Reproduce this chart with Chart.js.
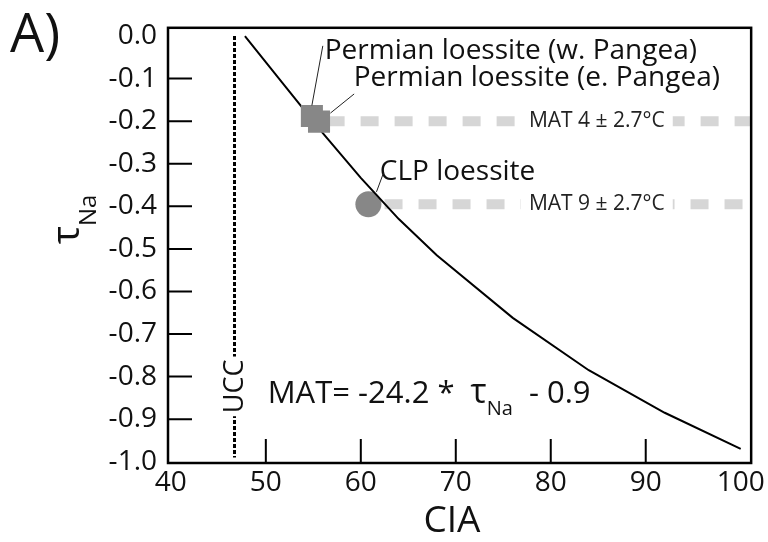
<!DOCTYPE html>
<html>
<head>
<meta charset="utf-8">
<script src="https://cdn.jsdelivr.net/npm/chart.js@4.4.1/dist/chart.umd.min.js"></script>
<style>
  body { margin: 0; background: #fff; }
  #wrap { width: 768px; height: 542px; }
</style>
</head>
<body>
<div id="wrap"><canvas id="chart" width="768" height="542"></canvas></div>
<script>
// model curve (CIA vs tau Na)
const curveCIA = [47.8, 52, 56, 60, 64, 68, 76, 84, 92, 100];
const curveTau = [0.0, -0.117, -0.228, -0.333, -0.43, -0.515, -0.662, -0.785, -0.885, -0.97];

// samples
const sampleNames = ["Permian loessite (w. Pangea)", "Permian loessite (e. Pangea)", "CLP loessite"];
const sampleCIA = [54.85, 55.6, 60.8];
const sampleTau = [-0.188, -0.201, -0.395];

// upper continental crust reference
const uccCIA = 46.7;
const uccTau = [0.0, -0.99];

// MAT bands (dashed grey lines)
const matLabels = ["MAT 4 \u00b1 2.7\u00b0C", "MAT 9 \u00b1 2.7\u00b0C"];
const matTau = [-0.2, -0.395];
const matStart = [56.4, 62.5];
const matEnd = 101.1;

const xTicks = [40, 50, 60, 70, 80, 90, 100];
const yTicks = [0.0, -0.1, -0.2, -0.3, -0.4, -0.5, -0.6, -0.7, -0.8, -0.9, -1.0];

const FONT = "'Open Sans', 'Liberation Sans', sans-serif";

// annotation text positions in data units
const labelPos = [
  { x: 56.2, y: -0.055, lead: [[54.85, -0.163], [56.0, -0.023]] },
  { x: 59.25, y: -0.118, lead: [[56.8, -0.181], [59.3, -0.136]] },
  { x: 62.0, y: -0.339, lead: [[61.65, -0.366], [62.4, -0.321]] }
];

const datasets = [];
matTau.forEach((t, i) => {
  datasets.push({
    data: [{ x: matStart[i], y: t }, { x: matEnd, y: t }],
    borderColor: "#d6d6d6",
    borderWidth: 10,
    borderDash: [18, 16],
    borderCapStyle: "butt",
    pointRadius: 0,
    showLine: true,
    order: 10
  });
});
datasets.push({
  data: uccTau.map((t) => ({ x: uccCIA, y: t })),
  borderColor: "#000",
  borderWidth: 3,
  borderDash: [4, 2],
  borderCapStyle: "butt",
  pointRadius: 0,
  showLine: true,
  order: 9
});
datasets.push({
  data: [{ x: sampleCIA[2], y: sampleTau[2] }],
  pointStyle: "circle",
  pointRadius: 13,
  backgroundColor: "#878787",
  borderWidth: 0,
  showLine: false,
  order: 8
});
datasets.push({
  data: curveCIA.map((c, i) => ({ x: c, y: curveTau[i] })),
  borderColor: "#000",
  borderWidth: 2,
  pointRadius: 0,
  showLine: true,
  tension: 0,
  order: 7
});
datasets.push({
  data: [0, 1].map((i) => ({ x: sampleCIA[i], y: sampleTau[i] })),
  pointStyle: "rect",
  pointRadius: 15.6,
  backgroundColor: "#878787",
  borderWidth: 0,
  showLine: false,
  order: 6
});

const decor = {
  id: "decor",
  afterDatasetsDraw(chart) {
    const ctx = chart.ctx;
    const xs = chart.scales.x, ys = chart.scales.y;
    const a = chart.chartArea;
    const px = (v) => xs.getPixelForValue(v);
    const py = (v) => ys.getPixelForValue(v);
    ctx.save();

    // MAT texts sit on a white patch over the dashes
    ctx.font = "21px " + FONT;
    ctx.textBaseline = "middle";
    ctx.textAlign = "center";
    matLabels.forEach((t, i) => {
      const w = ctx.measureText(t).width;
      const cx = px(84.85), cy = py(matTau[i]);
      ctx.fillStyle = "#fff";
      ctx.fillRect(cx - w / 2 - 8, cy - 8, w + 16, 16);
      ctx.fillStyle = "#222";
      ctx.fillText(t, cx, cy);
    });

    // sample labels and leader lines
    ctx.strokeStyle = "#222";
    ctx.lineWidth = 1;
    ctx.fillStyle = "#111";
    ctx.font = "28px " + FONT;
    ctx.textAlign = "left";
    ctx.textBaseline = "alphabetic";
    sampleNames.forEach((n, i) => {
      const p = labelPos[i];
      ctx.fillText(n, px(p.x), py(p.y));
      ctx.beginPath();
      ctx.moveTo(px(p.lead[0][0]), py(p.lead[0][1]));
      ctx.lineTo(px(p.lead[1][0]), py(p.lead[1][1]));
      ctx.stroke();
    });

    // UCC label (rotated, white behind it to break the dotted line)
    ctx.save();
    ctx.translate(px(uccCIA), py(-0.823));
    ctx.rotate(-Math.PI / 2);
    ctx.font = "27px " + FONT;
    ctx.textAlign = "center";
    ctx.textBaseline = "middle";
    const uw = ctx.measureText("UCC").width;
    ctx.fillStyle = "#fff";
    ctx.fillRect(-uw / 2 - 3, -12, uw + 6, 24);
    ctx.fillStyle = "#111";
    ctx.fillText("UCC", 0, 1);
    ctx.restore();

    // equation
    let ex = px(50.2);
    const ey = py(-0.861);
    ctx.font = "31px " + FONT;
    ctx.fillStyle = "#111";
    const parts1 = "MAT= -24.2 *  ";
    ctx.fillText(parts1, ex, ey);
    ex += ctx.measureText(parts1).width;
    ctx.font = "34px " + FONT;
    ctx.fillText("\u03c4", ex, ey);
    ex += ctx.measureText("\u03c4").width;
    ctx.font = "20px " + FONT;
    ctx.fillText("Na", ex, ey + 12);
    ex += ctx.measureText("Na").width;
    ctx.font = "31px " + FONT;
    ctx.fillText("  - 0.9", ex, ey);

    // frame and inside ticks
    ctx.strokeStyle = "#000";
    ctx.lineWidth = 2.5;
    ctx.strokeRect(a.left, a.top, a.right - a.left, a.bottom - a.top);
    ctx.lineWidth = 2;
    ctx.beginPath();
    xTicks.slice(1, -1).forEach((v) => {
      ctx.moveTo(px(v), a.bottom);
      ctx.lineTo(px(v), a.bottom - 24);
    });
    yTicks.slice(1, -1).forEach((v) => {
      ctx.moveTo(a.left, py(v));
      ctx.lineTo(a.left + 24, py(v));
    });
    ctx.stroke();

    // panel letter and axis titles
    ctx.fillStyle = "#111";
    ctx.textAlign = "left";
    ctx.font = "54px " + FONT;
    ctx.fillText("A)", 10, 52);
    ctx.textAlign = "center";
    ctx.font = "37px " + FONT;
    ctx.fillText("CIA", 452, 532);

    // y title: tau with subscript Na, rotated
    ctx.save();
    ctx.translate(79, 244);
    ctx.rotate(-Math.PI / 2);
    ctx.textAlign = "left";
    ctx.font = "38px " + FONT;
    ctx.fillText("\u03c4", 0, 0);
    const tw = ctx.measureText("\u03c4").width;
    ctx.font = "24px " + FONT;
    ctx.fillText("Na", tw, 17);
    ctx.restore();

    ctx.restore();
  }
};

new Chart(document.getElementById("chart"), {
  type: "scatter",
  data: { datasets },
  options: {
    responsive: false,
    animation: false,
    layout: { padding: { top: 9, right: 15, left: 0, bottom: 0 } },
    plugins: { legend: { display: false }, tooltip: { enabled: false } },
    scales: {
      x: {
        type: "linear",
        min: 39.7,
        max: 101.1,
        afterBuildTicks: (s) => { s.ticks = xTicks.map((v) => ({ value: v })); },
        afterFit: (s) => { s.height = 79; },
        grid: { display: false, drawTicks: false },
        border: { display: false },
        ticks: { padding: 3, color: "#111", font: { family: FONT, size: 28 }, maxRotation: 0, autoSkip: false }
      },
      y: {
        type: "linear",
        min: -1.003,
        max: 0.0194,
        afterBuildTicks: (s) => { s.ticks = yTicks.map((v) => ({ value: v })); },
        afterFit: (s) => { s.width = 168; },
        grid: { display: false, drawTicks: false },
        border: { display: false },
        ticks: {
          padding: 11,
          color: "#111",
          font: { family: FONT, size: 28 },
          autoSkip: false,
          callback: (v) => v.toFixed(1)
        }
      }
    }
  },
  plugins: [decor]
});
</script>
</body>
</html>
